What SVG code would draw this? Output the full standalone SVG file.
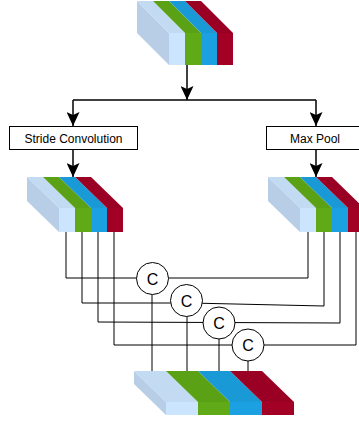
<svg xmlns="http://www.w3.org/2000/svg" width="359" height="425" viewBox="0 0 359 425">
  <defs>
    <marker id="arrow" markerUnits="userSpaceOnUse" markerWidth="14" markerHeight="13" refX="14" refY="6.5" orient="auto">
      <path d="M0,0 L14,6.5 L0,13 L3,6.5 Z" fill="#000"/>
    </marker>
  </defs>
  <style>
    .side { fill: #B8CEE6; }
    .t0 { fill: #C2DAF2; }
    .t1 { fill: #5BA116; }
    .t2 { fill: #1A99D7; }
    .t3 { fill: #9A0023; }
    .f0 { fill: #CCE5FF; }
    .f1 { fill: #60A917; }
    .f2 { fill: #1BA1E2; }
    .f3 { fill: #A20025; }
    .arrow { fill: none; stroke: #000; stroke-width: 1.5; }
    .wire { fill: none; stroke: #000; stroke-width: 1; }
    .box { fill: #fff; stroke: #000; stroke-width: 1; }
    .lbl { font-family: "Liberation Sans", Arial, sans-serif; font-size: 12px; fill: #000; text-anchor: middle; }
    .cat { fill: #fff; stroke: #000; stroke-width: 1; }
    .catlbl { font-family: "Liberation Sans", Arial, sans-serif; font-size: 16px; fill: #000; text-anchor: middle; }
  </style>

  <g id="connectors">
    <line class="arrow" x1="187" y1="65" x2="187" y2="100" marker-end="url(#arrow)"/>
    <line class="arrow" x1="73" y1="100" x2="316" y2="100"/>
    <polyline class="arrow" points="73,100 73,126" marker-end="url(#arrow)"/>
    <polyline class="arrow" points="316,100 316,126" marker-end="url(#arrow)"/>
    <line class="arrow" x1="73" y1="150" x2="73" y2="177" marker-end="url(#arrow)"/>
    <line class="arrow" x1="316" y1="150" x2="316" y2="177" marker-end="url(#arrow)"/>
    <polyline class="wire" points="66,232 66,278 308,278 308,232"/>
    <polyline class="wire" points="82,232 82,303 190,303 324,306 324,232"/>
    <polyline class="wire" points="98,232 98,322 340,323 340,232"/>
    <polyline class="wire" points="114,232 114,345 356,345 356,232"/>
    <line class="wire" x1="152" y1="290" x2="152" y2="371"/>
    <line class="wire" x1="187" y1="312" x2="187" y2="371"/>
    <line class="wire" x1="219" y1="335" x2="219" y2="371"/>
    <line class="wire" x1="248" y1="357" x2="248" y2="371"/>
  </g>

  <g id="tensor-input">
    <polygon class="side" points="137,1 169,33 169,65 137,33"/>
    <polygon class="t0" points="137,1 153,1 185,33 169,33"/>
    <polygon class="t1" points="153,1 169,1 201,33 185,33"/>
    <polygon class="t2" points="169,1 185,1 217,33 201,33"/>
    <polygon class="t3" points="185,1 201,1 233,33 217,33"/>
    <rect class="f0" x="169" y="33" width="16" height="32"/>
    <rect class="f1" x="185" y="33" width="16" height="32"/>
    <rect class="f2" x="201" y="33" width="16" height="32"/>
    <rect class="f3" x="217" y="33" width="16" height="32"/>
  </g>

  <g id="stride-conv">
    <rect class="box" x="9.5" y="126.5" width="128" height="23"/>
    <text class="lbl" x="73.5" y="142.5">Stride Convolution</text>
  </g>

  <g id="max-pool">
    <rect class="box" x="266.5" y="126.5" width="100" height="23"/>
    <text class="lbl" x="315" y="142.5">Max Pool</text>
  </g>

  <g id="tensor-left">
    <polygon class="side" points="27,177 59,208 59,232 27,201"/>
    <polygon class="t0" points="27,177 43,177 75,208 59,208"/>
    <polygon class="t1" points="43,177 59,177 91,208 75,208"/>
    <polygon class="t2" points="59,177 75,177 107,208 91,208"/>
    <polygon class="t3" points="75,177 91,177 123,208 107,208"/>
    <rect class="f0" x="59" y="208" width="16" height="24"/>
    <rect class="f1" x="75" y="208" width="16" height="24"/>
    <rect class="f2" x="91" y="208" width="16" height="24"/>
    <rect class="f3" x="107" y="208" width="16" height="24"/>
  </g>

  <g id="tensor-right">
    <polygon class="side" points="268,177 300,208 300,232 268,201"/>
    <polygon class="t0" points="268,177 284,177 316,208 300,208"/>
    <polygon class="t1" points="284,177 300,177 332,208 316,208"/>
    <polygon class="t2" points="300,177 316,177 348,208 332,208"/>
    <polygon class="t3" points="316,177 332,177 364,208 348,208"/>
    <rect class="f0" x="300" y="208" width="16" height="24"/>
    <rect class="f1" x="316" y="208" width="16" height="24"/>
    <rect class="f2" x="332" y="208" width="16" height="24"/>
    <rect class="f3" x="348" y="208" width="16" height="24"/>
  </g>

  <g id="concat-1">
    <circle class="cat" cx="152.5" cy="278.5" r="16"/>
    <text class="catlbl" x="152.5" y="284.5">C</text>
  </g>
  <g id="concat-2">
    <circle class="cat" cx="186.5" cy="300.5" r="16"/>
    <text class="catlbl" x="186.5" y="306.5">C</text>
  </g>
  <g id="concat-3">
    <circle class="cat" cx="219" cy="323" r="16"/>
    <text class="catlbl" x="219" y="329">C</text>
  </g>
  <g id="concat-4">
    <circle class="cat" cx="248" cy="345" r="16"/>
    <text class="catlbl" x="248" y="351">C</text>
  </g>

  <g id="tensor-output">
    <polygon class="side" points="134,371 166,402 166,415 134,384"/>
    <polygon class="t0" points="134,371 166,371 198,402 166,402"/>
    <polygon class="t1" points="166,371 198,371 230,402 198,402"/>
    <polygon class="t2" points="198,371 230,371 262,402 230,402"/>
    <polygon class="t3" points="230,371 262,371 294,402 262,402"/>
    <rect class="f0" x="166" y="402" width="32" height="13"/>
    <rect class="f1" x="198" y="402" width="32" height="13"/>
    <rect class="f2" x="230" y="402" width="32" height="13"/>
    <rect class="f3" x="262" y="402" width="32" height="13"/>
  </g>
</svg>
